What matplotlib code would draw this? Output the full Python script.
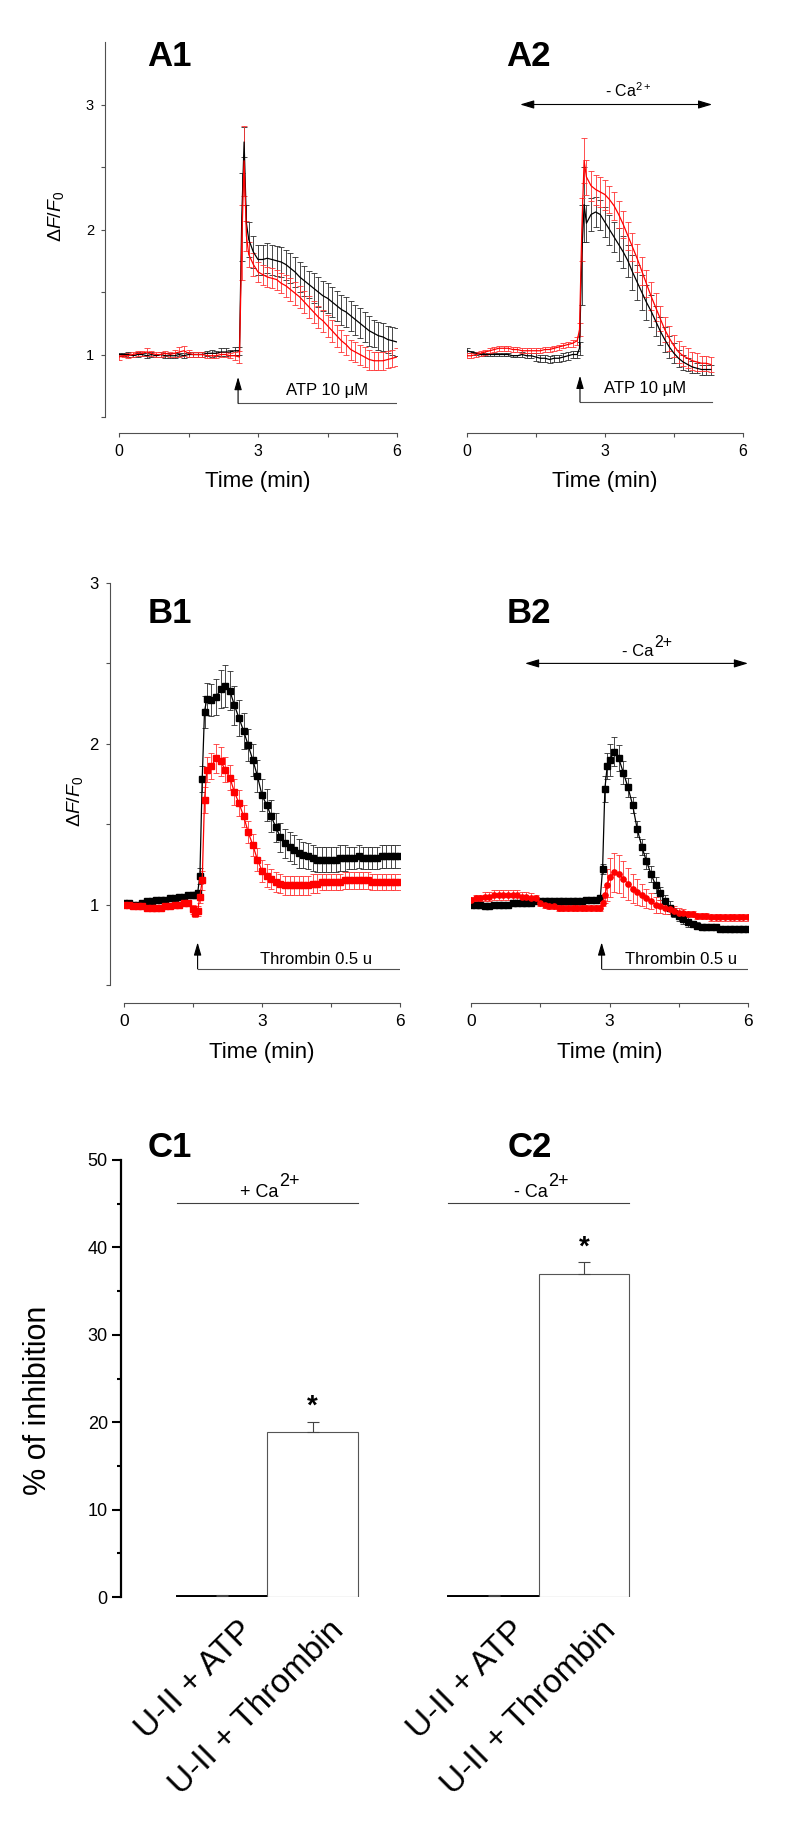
import numpy as np
import matplotlib
matplotlib.use('Agg')
import matplotlib.pyplot as plt
from matplotlib.transforms import ScaledTranslation

plt.rcParams['font.family'] = ['Liberation Sans', 'DejaVu Sans']
plt.rcParams['mathtext.fontset'] = 'custom'
plt.rcParams['mathtext.rm'] = 'Liberation Sans'
plt.rcParams['mathtext.it'] = 'Liberation Sans:italic'
plt.rcParams['mathtext.bf'] = 'Liberation Sans:bold'

# ---------------- data ----------------
# A1: ATP 10 uM, + Ca2+
t_a1 = np.r_[np.linspace(0, 2.5, 26), [2.6, 2.65, 2.7, 2.75], np.linspace(2.8, 6.0, 33)]
a1_black = [1.00, 1.00, 1.00, 0.99, 1.00, 1.00, 0.99, 1.00, 0.99, 1.00, 0.99, 0.99, 0.99,
            1.00, 0.99, 1.00, 1.00, 1.00, 1.00, 1.01, 1.01, 1.01, 1.02, 1.02, 1.02, 1.03,
            1.03, 2.10, 2.70, 2.05,
            1.92, 1.82, 1.76, 1.76, 1.77, 1.76, 1.75, 1.74, 1.72, 1.69, 1.66, 1.62, 1.59,
            1.56, 1.53, 1.50, 1.47, 1.45, 1.42, 1.39, 1.36, 1.34, 1.31, 1.28, 1.25, 1.22,
            1.19, 1.17, 1.15, 1.14, 1.12, 1.11, 1.10]
a1_black_err = [0.01, 0.01, 0.02, 0.01, 0.02, 0.01, 0.02, 0.02, 0.01, 0.02, 0.02, 0.02, 0.02,
                0.01, 0.02, 0.02, 0.02, 0.02, 0.02, 0.02, 0.03, 0.02, 0.03, 0.03, 0.02, 0.03,
                0.03, 0.35, 0.12, 0.15,
                0.14, 0.13, 0.12, 0.12, 0.12, 0.12, 0.12, 0.12, 0.12, 0.12, 0.12, 0.12, 0.12,
                0.11, 0.12, 0.12, 0.12, 0.12, 0.12, 0.12, 0.12, 0.12, 0.12, 0.12, 0.12, 0.12,
                0.12, 0.11, 0.11, 0.11, 0.11, 0.11, 0.11]
a1_red = [0.98, 0.99, 0.99, 1.00, 1.01, 1.01, 1.02, 1.01, 1.00, 1.00, 1.01, 1.00, 1.01,
          1.02, 1.03, 1.01, 1.00, 1.00, 1.00, 0.99, 0.99, 0.99, 1.00, 1.00, 0.99, 0.99,
          0.98, 1.90, 2.55, 1.95,
          1.80, 1.72, 1.66, 1.64, 1.62, 1.61, 1.60, 1.57, 1.55, 1.52, 1.49, 1.46, 1.42,
          1.38, 1.34, 1.30, 1.27, 1.23, 1.19, 1.15, 1.11, 1.08, 1.04, 1.02, 1.00, 0.98,
          0.96, 0.95, 0.95, 0.95, 0.96, 0.97, 0.98]
a1_red_err = [0.02, 0.01, 0.02, 0.02, 0.02, 0.02, 0.03, 0.02, 0.02, 0.02, 0.02, 0.02, 0.03,
              0.04, 0.04, 0.03, 0.02, 0.02, 0.02, 0.02, 0.02, 0.02, 0.02, 0.02, 0.02, 0.03,
              0.05, 0.30, 0.28, 0.12,
              0.10, 0.09, 0.08, 0.08, 0.08, 0.08, 0.08, 0.08, 0.09, 0.09, 0.09, 0.09, 0.09,
              0.09, 0.09, 0.09, 0.09, 0.09, 0.09, 0.09, 0.09, 0.08, 0.08, 0.08, 0.08, 0.08,
              0.08, 0.07, 0.07, 0.07, 0.07, 0.07, 0.07]

# A2: ATP 10 uM, - Ca2+
t_a2 = np.r_[np.linspace(0, 2.4, 25), [2.45, 2.5, 2.55, 2.6], np.linspace(2.7, 5.3, 27)]
a2_black = [1.03, 1.02, 1.01, 1.00, 1.00, 1.00, 1.00, 1.00, 1.00, 1.00, 0.99, 0.99, 1.00,
            0.99, 0.99, 0.98, 0.97, 0.97, 0.96, 0.97, 0.97, 0.98, 0.99, 1.00, 1.00,
            1.05, 1.80, 2.20, 2.05,
            2.12, 2.14, 2.12, 2.06, 2.00, 1.94, 1.88, 1.82, 1.75, 1.66, 1.58, 1.50, 1.42,
            1.35, 1.27, 1.19, 1.12, 1.06, 1.01, 0.97, 0.94, 0.92, 0.90, 0.89, 0.88, 0.88, 0.88]
a2_black_err = [0.02, 0.01, 0.01, 0.01, 0.01, 0.01, 0.01, 0.01, 0.01, 0.01, 0.01, 0.01, 0.02,
                0.02, 0.02, 0.03, 0.03, 0.03, 0.03, 0.03, 0.03, 0.03, 0.03, 0.03, 0.03,
                0.05, 0.40, 0.30, 0.15,
                0.13, 0.12, 0.12, 0.12, 0.12, 0.12, 0.13, 0.13, 0.13, 0.14, 0.14, 0.14, 0.14,
                0.13, 0.12, 0.11, 0.10, 0.09, 0.08, 0.07, 0.06, 0.05, 0.05, 0.04, 0.04, 0.04, 0.04]
a2_red = [0.99, 0.99, 1.00, 1.01, 1.02, 1.03, 1.04, 1.05, 1.05, 1.05, 1.04, 1.04, 1.03,
          1.03, 1.03, 1.03, 1.03, 1.04, 1.04, 1.05, 1.06, 1.07, 1.08, 1.09, 1.11,
          1.20, 2.00, 2.55, 2.42,
          2.35, 2.32, 2.30, 2.28, 2.24, 2.19, 2.12, 2.04, 1.95, 1.86, 1.77, 1.67, 1.57,
          1.47, 1.38, 1.29, 1.20, 1.13, 1.07, 1.02, 0.99, 0.97, 0.95, 0.94, 0.93, 0.93, 0.92]
a2_red_err = [0.02, 0.02, 0.02, 0.02, 0.02, 0.02, 0.02, 0.02, 0.02, 0.02, 0.02, 0.02, 0.02,
              0.02, 0.02, 0.02, 0.02, 0.02, 0.02, 0.02, 0.02, 0.02, 0.02, 0.03, 0.03,
              0.05, 0.25, 0.18, 0.14,
              0.12, 0.12, 0.12, 0.12, 0.11, 0.11, 0.11, 0.11, 0.11, 0.11, 0.11, 0.11, 0.11,
              0.11, 0.11, 0.10, 0.10, 0.10, 0.09, 0.09, 0.08, 0.08, 0.07, 0.07, 0.06, 0.06, 0.06]

# B1: thrombin 0.5 u, + Ca2+
t_b1 = np.r_[np.linspace(0, 1.5, 16), [1.55, 1.6, 1.65, 1.7, 1.75], np.linspace(1.8, 6.0, 43)]
b1_black = [1.01, 1.01, 1.00, 1.00, 1.01, 1.02, 1.02, 1.03, 1.03, 1.03, 1.04, 1.04, 1.05,
            1.05, 1.06, 1.06,
            1.06, 1.07, 1.18, 1.78, 2.20,
            2.28, 2.27, 2.29, 2.34, 2.36, 2.33, 2.24, 2.16, 2.08, 1.99, 1.90, 1.80, 1.68,
            1.62, 1.55, 1.48, 1.42, 1.38, 1.36, 1.34, 1.32, 1.31, 1.30, 1.29, 1.28, 1.28,
            1.28, 1.28, 1.28, 1.29, 1.29, 1.29, 1.29, 1.30, 1.29, 1.29, 1.29, 1.29, 1.30,
            1.30, 1.30, 1.30, 1.30]
b1_black_err = [0.01, 0.01, 0.01, 0.01, 0.01, 0.01, 0.01, 0.01, 0.01, 0.01, 0.01, 0.01, 0.01,
                0.01, 0.02, 0.02,
                0.02, 0.02, 0.05, 0.08, 0.10,
                0.10, 0.10, 0.11, 0.12, 0.13, 0.12, 0.12, 0.11, 0.11, 0.10, 0.10, 0.10, 0.10,
                0.10, 0.10, 0.09, 0.09, 0.09, 0.09, 0.09, 0.09, 0.08, 0.08, 0.08, 0.08, 0.08,
                0.08, 0.08, 0.08, 0.08, 0.08, 0.07, 0.07, 0.07, 0.07, 0.07, 0.07, 0.07, 0.07,
                0.07, 0.07, 0.07, 0.07]
b1_red = [1.00, 1.00, 0.99, 0.99, 0.99, 0.98, 0.98, 0.98, 0.98, 0.99, 0.99, 1.00, 1.00,
          1.01, 1.01, 0.97,
          0.95, 0.96, 1.05, 1.15, 1.65,
          1.84, 1.86, 1.91, 1.89, 1.84, 1.79, 1.70, 1.63, 1.55, 1.45, 1.37, 1.28, 1.21,
          1.18, 1.16, 1.14, 1.13, 1.12, 1.12, 1.12, 1.12, 1.12, 1.12, 1.13, 1.13, 1.14,
          1.14, 1.14, 1.14, 1.14, 1.15, 1.15, 1.15, 1.15, 1.15, 1.15, 1.14, 1.14, 1.14,
          1.14, 1.14, 1.14, 1.14]
b1_red_err = [0.01, 0.01, 0.01, 0.01, 0.01, 0.01, 0.01, 0.01, 0.01, 0.01, 0.01, 0.01, 0.01,
              0.01, 0.02, 0.03,
              0.03, 0.03, 0.04, 0.06, 0.08,
              0.08, 0.08, 0.09, 0.09, 0.08, 0.08, 0.08, 0.08, 0.07, 0.07, 0.07, 0.07, 0.07,
              0.07, 0.06, 0.06, 0.06, 0.06, 0.06, 0.06, 0.06, 0.06, 0.06, 0.06, 0.06, 0.05,
              0.05, 0.05, 0.05, 0.05, 0.05, 0.05, 0.05, 0.05, 0.05, 0.05, 0.05, 0.05, 0.05,
              0.05, 0.05, 0.05, 0.05]

# B2: thrombin 0.5 u, - Ca2+
t_b2 = np.r_[np.linspace(0, 2.8, 29), [2.85, 2.9, 2.95], np.linspace(3.0, 6.0, 31)]
b2_black = [1.00, 1.00, 1.00, 0.99, 0.99, 1.00, 1.00, 1.00, 1.00, 1.01, 1.01, 1.01, 1.01,
            1.01, 1.02, 1.02, 1.02, 1.02, 1.02, 1.02, 1.02, 1.02, 1.02, 1.02, 1.02, 1.03,
            1.03, 1.03, 1.04,
            1.22, 1.72, 1.86,
            1.90, 1.95, 1.91, 1.82, 1.73, 1.62, 1.47, 1.36, 1.27, 1.19, 1.12, 1.07, 1.02,
            0.98, 0.95, 0.93, 0.91, 0.89, 0.88, 0.87, 0.86, 0.86, 0.86, 0.86, 0.85, 0.85,
            0.85, 0.85, 0.85, 0.85, 0.85]
b2_black_err = [0.01, 0.01, 0.01, 0.01, 0.01, 0.01, 0.01, 0.01, 0.01, 0.01, 0.01, 0.01, 0.01,
                0.01, 0.01, 0.01, 0.01, 0.01, 0.01, 0.01, 0.01, 0.01, 0.01, 0.01, 0.01, 0.01,
                0.01, 0.01, 0.02,
                0.03, 0.08, 0.08,
                0.10, 0.09, 0.08, 0.07, 0.06, 0.05, 0.05, 0.05, 0.05, 0.05, 0.05, 0.04, 0.04,
                0.04, 0.03, 0.03, 0.03, 0.03, 0.02, 0.02, 0.02, 0.02, 0.02, 0.02, 0.02, 0.02,
                0.02, 0.02, 0.02, 0.02, 0.02]
b2_red = [1.03, 1.04, 1.04, 1.05, 1.05, 1.06, 1.06, 1.06, 1.06, 1.06, 1.06, 1.05, 1.05,
          1.04, 1.04, 1.01, 1.00, 0.99, 0.99, 0.98, 0.98, 0.98, 0.98, 0.98, 0.98, 0.98,
          0.98, 0.98, 0.98,
          1.01, 1.06, 1.12,
          1.17, 1.20, 1.19, 1.16, 1.13, 1.10, 1.08, 1.06, 1.04, 1.02, 1.00, 0.99, 0.98,
          0.97, 0.96, 0.95, 0.95, 0.94, 0.94, 0.93, 0.93, 0.93, 0.92, 0.92, 0.92, 0.92,
          0.92, 0.92, 0.92, 0.92, 0.92]
b2_red_err = [0.02, 0.02, 0.02, 0.03, 0.03, 0.03, 0.03, 0.03, 0.03, 0.03, 0.03, 0.03, 0.03,
              0.03, 0.02, 0.02, 0.02, 0.02, 0.02, 0.02, 0.02, 0.02, 0.02, 0.02, 0.02, 0.02,
              0.02, 0.02, 0.02,
              0.02, 0.05, 0.10,
              0.12, 0.12, 0.12, 0.11, 0.10, 0.09, 0.08, 0.07, 0.06, 0.05, 0.05, 0.04, 0.04,
              0.03, 0.03, 0.03, 0.02, 0.02, 0.02, 0.02, 0.02, 0.02, 0.02, 0.02, 0.02, 0.02,
              0.02, 0.02, 0.02, 0.02, 0.02]

# C: % of inhibition
c_labels = ['U-II + ATP', 'U-II + Thrombin']
c1_vals = [0.15, 18.9]
c1_err = [0.1, 1.1]
c2_vals = [0.15, 37.0]
c2_err = [0.1, 1.3]

for name, t, arrs in [('A1', t_a1, [a1_black, a1_black_err, a1_red, a1_red_err]),
                      ('A2', t_a2, [a2_black, a2_black_err, a2_red, a2_red_err]),
                      ('B1', t_b1, [b1_black, b1_black_err, b1_red, b1_red_err]),
                      ('B2', t_b2, [b2_black, b2_black_err, b2_red, b2_red_err])]:
    for a in arrs:
        assert len(a) == len(t), (name, len(a), len(t))

# ---------------- figure ----------------
W, H = 800, 1821
fig = plt.figure(figsize=(W / 100, H / 100), dpi=100)
axc = '#505050'


def box(l, r, t, b):
    return [l / W, 1 - b / H, (r - l) / W, (b - t) / H]


def ftext(x, y, s, **kw):
    return fig.text(x / W, 1 - y / H, s, **kw)


def setup_trace(ax, ylim, show_y, bottom_out, xfs, yfs):
    ax.set_xlim(0, 6)
    ax.set_ylim(*ylim)
    ax.patch.set_visible(False)
    for s in ['top', 'right']:
        ax.spines[s].set_visible(False)
    ax.spines['bottom'].set_position(('outward', bottom_out))
    ax.spines['bottom'].set_color(axc)
    ax.spines['bottom'].set_linewidth(0.8)
    ax.set_xticks([0, 3, 6])
    ax.set_xticks([1.5, 4.5], minor=True)
    ax.tick_params(axis='x', which='both', direction='out', length=3, width=0.8,
                   color=axc, labelsize=xfs, pad=5)
    if show_y:
        ax.spines['left'].set_position(('outward', 10))
        ax.spines['left'].set_color(axc)
        ax.spines['left'].set_linewidth(0.8)
        ax.set_yticks([1, 2, 3])
        ax.set_yticks([0.5, 1.5, 2.5], minor=True)
        ax.tick_params(axis='y', which='both', direction='out', length=3, width=0.8,
                       color=axc, labelsize=yfs, pad=5)
    else:
        ax.spines['left'].set_visible(False)
        ax.set_yticks([])


def traces(ax, t, k, ke, r, re, mk='', mr=''):
    ax.errorbar(t, k, yerr=ke, color='black', lw=0.9, ecolor='#2b2b2b', elinewidth=0.6,
                capsize=2, capthick=0.6, marker=mk, ms=3.8, mec='black', mfc='black')
    ax.errorbar(t, r, yerr=re, color='red', lw=0.9, ecolor='#ff3333', elinewidth=0.6,
                capsize=2, capthick=0.6, marker=mr, ms=3.8, mec='red', mfc='red')


def stim(ax, t0, t1, ybase, ytip, label, lx, ly):
    ax.annotate('', xy=(t0, ytip), xytext=(t0, ybase),
                arrowprops=dict(arrowstyle='-|>,head_length=0.55,head_width=0.16',
                                color='black', lw=0.8, shrinkA=0, shrinkB=0,
                                mutation_scale=14))
    ax.plot([t0, t1], [ybase, ybase], color=axc, lw=0.8)
    ax.text(lx, ly, label, ha='center', va='baseline', fontsize=12)


def no_ca(ax, t0, t1, y):
    ax.annotate('', xy=(t1, y), xytext=(t0, y),
                arrowprops=dict(arrowstyle='<|-|>,head_length=0.6,head_width=0.18',
                                color='black', lw=0.8, shrinkA=0, shrinkB=0,
                                mutation_scale=14))


def ca_label(ax, x, y, main, fs, sup_fs, rise):
    t = ax.text(x, y, main, ha='left', va='bottom', fontsize=fs)
    ax.annotate('2+', xy=(1, 0), xycoords=t, xytext=(0.5, rise),
                textcoords='offset points', ha='left', va='bottom', fontsize=sup_fs)


yl = r'$\Delta\mathit{F/F}_{\mathit{0}}$'

# A1
ax = fig.add_axes(box(119, 397, 42, 417))
setup_trace(ax, (0.5, 3.5), True, 11.5, 11.5, 10.5)
traces(ax, t_a1, a1_black, a1_black_err, a1_red, a1_red_err)
stim(ax, 2.57, 6.0, 0.61, 0.82, 'ATP 10 μM', 4.5, 0.68)

# A2
ax = fig.add_axes(box(466.7, 743, 42, 417))
setup_trace(ax, (0.5, 3.5), False, 11.5, 11.5, 10.5)
traces(ax, t_a2, a2_black, a2_black_err, a2_red, a2_red_err)
stim(ax, 2.46, 5.33, 0.62, 0.83, 'ATP 10 μM', 3.88, 0.69)
no_ca(ax, 1.16, 5.33, 3.0)
ax.text(3.5, 3.06, r'- Ca$^{\mathrm{2+}}$', ha='center', va='baseline', fontsize=11.5)

# B1
ax = fig.add_axes(box(124, 400, 583, 985))
setup_trace(ax, (0.5, 3.0), True, 13, 12.5, 12)
traces(ax, t_b1, b1_black, b1_black_err, b1_red, b1_red_err, mk='s', mr='s')
stim(ax, 1.6, 6.0, 0.6, 0.765, 'Thrombin 0.5 u', 4.18, 0.63)

# B2
ax = fig.add_axes(box(471, 748, 583, 985))
setup_trace(ax, (0.5, 3.0), False, 13, 12.5, 12)
traces(ax, t_b2, b2_black, b2_black_err, b2_red, b2_red_err, mk='s', mr='o')
stim(ax, 2.83, 6.0, 0.6, 0.765, 'Thrombin 0.5 u', 4.55, 0.63)
no_ca(ax, 1.17, 6.0, 2.5)
ca_label(ax, 3.27, 2.53, '- Ca', 12, 11.5, 6)

# C
ax = fig.add_axes(box(121, 720, 1160, 1597))
ax.set_xlim(-1.116, 5.5)
ax.set_ylim(0, 50)
ax.patch.set_visible(False)
for s in ['top', 'right', 'bottom']:
    ax.spines[s].set_visible(False)
ax.spines['left'].set_linewidth(1.6)
ax.spines['left'].set_color('black')
ax.set_yticks([0, 10, 20, 30, 40, 50])
ax.set_yticks([5, 15, 25, 35, 45], minor=True)
ax.tick_params(axis='y', which='major', direction='out', length=6.5, width=1.5, labelsize=13, pad=3)
ax.tick_params(axis='y', which='minor', direction='out', length=3, width=1.5)

pos = [0, 1, 3, 4]
vals = c1_vals + c2_vals
errs = c1_err + c2_err
edge = ['black', '#555555', 'black', '#555555']
elw = [1.4, 0.8, 1.4, 0.8]
ax.bar(pos, vals, width=1.0, color='white', edgecolor=edge, linewidth=elw, zorder=2)
ax.errorbar(pos, vals, yerr=[np.zeros(len(errs)), errs], fmt='none', ecolor='#444444',
            elinewidth=0.8, capsize=4.5, capthick=0.8, zorder=3)
ax.set_xticks(pos)
ax.set_xticklabels(c_labels + c_labels)
ax.tick_params(axis='x', length=0, labelsize=24, pad=21)
off = ScaledTranslation(0.27, 0, fig.dpi_scale_trans)
for lab in ax.get_xticklabels():
    lab.set_rotation(45)
    lab.set_ha('right')
    lab.set_va('center')
    lab.set_rotation_mode('anchor')
    lab.set_transform(lab.get_transform() + off)

ax.plot([-0.5, 1.5], [45.1, 45.1], color='#404040', lw=0.8)
ax.plot([2.5, 4.5], [45.1, 45.1], color='#404040', lw=0.8)
ca_label(ax, 0.2, 45.3, '+ Ca', 13, 13, 8)
ca_label(ax, 3.22, 45.3, '- Ca', 13, 13, 8)
ax.text(1, 21.0, '*', ha='center', va='baseline', fontsize=20, fontweight='bold')
ax.text(4, 39.2, '*', ha='center', va='baseline', fontsize=20, fontweight='bold')

# figure-level labels
for s, x, y in [('A1', 147, 66), ('A2', 506, 66), ('B1', 148, 623), ('B2', 507, 623),
                ('C1', 148, 1157), ('C2', 508, 1157)]:
    ftext(x, y, s, fontsize=25, fontweight='bold', ha='left', va='baseline')
for x, y in [(258, 487), (605, 487), (262, 1058), (609.5, 1058)]:
    ftext(x, y, 'Time (min)', fontsize=16, ha='center', va='baseline')
ftext(56, 216, yl, fontsize=14, rotation=90, ha='center', va='center')
ftext(75, 801, yl, fontsize=14, rotation=90, ha='center', va='center')
ftext(38, 1400, '% of inhibition', fontsize=22, rotation=90, ha='center', va='center')

fig.savefig('out.png', dpi=100)
